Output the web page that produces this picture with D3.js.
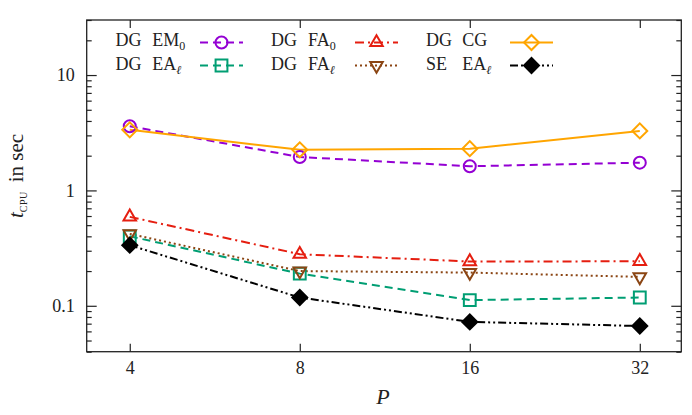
<!DOCTYPE html>
<html>
<head>
<meta charset="utf-8">
<script src="https://cdn.jsdelivr.net/npm/d3@7"></script>
<style>
  body { margin: 0; background: #fff; }
</style>
</head>
<body>
<svg id="chart" width="692" height="415"></svg>
<script>
// processes P
const P = [4, 8, 16, 32];

// CPU time in seconds
const dgEM0 = [3.6, 1.95, 1.62, 1.74];
const dgEAl = [0.40, 0.19, 0.112, 0.118];
const dgFA0 = [0.59, 0.28, 0.242, 0.243];
const dgFAl = [0.42, 0.20, 0.194, 0.178];
const dgCG  = [3.35, 2.25, 2.3, 3.28];
const seEAl = [0.335, 0.118, 0.0725, 0.0668];

const xTicks = [4, 8, 16, 32];
const yTicks = [0.1, 1, 10];
const yTickLabels = ["0.1", "1", "10"];

const series = [
    { first: "DG", second: "EM", sub: "0", values: dgEM0, color: "#9400d3", dash: "8,5", shape: "circle" },
    { first: "DG", second: "EA", sub: "ℓ", values: dgEAl, color: "#009e73", dash: "8,5", shape: "square" },
    { first: "DG", second: "FA", sub: "0", values: dgFA0, color: "#e51e10", dash: "9,4,2,4", shape: "triangle" },
    { first: "DG", second: "FA", sub: "ℓ", values: dgFAl, color: "#8b4513", dash: "2,3", shape: "triangleDown" },
    { first: "DG", second: "CG", sub: "", values: dgCG, color: "#ffa500", dash: null, shape: "diamond" },
    { first: "SE", second: "EA", sub: "ℓ", values: seEAl, color: "#000000", dash: "8,3,2,3,2,3", shape: "diamondFilled" }
];

const FONT = "'Liberation Serif', 'DejaVu Serif', serif";
const box = { left: 86.7, right: 681.3, top: 20, bottom: 351.7 };
const svg = d3.select("#chart").attr("font-family", FONT);

const x = d3.scaleLog().base(2).domain([3.356, 37.9]).range([box.left, box.right]);
const y = d3.scaleLog().domain([0.04, 30]).range([box.bottom, box.top]);

// minor log ticks
const yMinor = [];
[0.01, 0.1, 1, 10].forEach(dec => {
    for (let k = 2; k <= 9; k++) {
        const v = dec * k;
        if (v >= 0.04 && v <= 30) yMinor.push(v);
    }
});

const tickColor = "#222";

function styleAxis(g) {
    g.attr("font-family", FONT).attr("font-size", 18);
    g.select(".domain").remove();
    g.selectAll(".tick line").attr("stroke", tickColor).attr("stroke-width", 1.2);
    g.selectAll(".tick text").attr("fill", tickColor);
}

// left axis
svg.append("g")
    .attr("transform", `translate(${box.left},0)`)
    .call(d3.axisLeft(y).tickValues(yTicks).tickFormat((d, i) => yTickLabels[i]).tickSize(-10).tickPadding(12))
    .call(styleAxis);
svg.append("g")
    .attr("transform", `translate(${box.left},0)`)
    .call(d3.axisLeft(y).tickValues(yMinor).tickFormat("").tickSize(-5))
    .call(styleAxis);

// right axis (mirror)
svg.append("g")
    .attr("transform", `translate(${box.right},0)`)
    .call(d3.axisRight(y).tickValues(yTicks).tickFormat("").tickSize(-10))
    .call(styleAxis);
svg.append("g")
    .attr("transform", `translate(${box.right},0)`)
    .call(d3.axisRight(y).tickValues(yMinor).tickFormat("").tickSize(-5))
    .call(styleAxis);

// bottom axis
svg.append("g")
    .attr("transform", `translate(0,${box.bottom})`)
    .call(d3.axisBottom(x).tickValues(xTicks).tickFormat(d3.format("d")).tickSize(-8).tickPadding(10))
    .call(styleAxis);

// top axis (mirror)
svg.append("g")
    .attr("transform", `translate(0,${box.top})`)
    .call(d3.axisTop(x).tickValues(xTicks).tickFormat("").tickSize(-8))
    .call(styleAxis);

// frame
svg.append("rect")
    .attr("x", box.left).attr("y", box.top)
    .attr("width", box.right - box.left).attr("height", box.bottom - box.top)
    .attr("fill", "none").attr("stroke", tickColor).attr("stroke-width", 1.3);

// axis labels
svg.append("text")
    .attr("x", 383).attr("y", 404)
    .attr("text-anchor", "middle")
    .attr("fill", tickColor)
    .attr("font-size", 22).attr("font-style", "italic")
    .text("P");

const ylab = svg.append("text")
    .attr("transform", "translate(23,176) rotate(-90)")
    .attr("text-anchor", "middle")
    .attr("fill", tickColor)
    .attr("font-size", 21);
ylab.append("tspan").attr("font-style", "italic").text("t");
ylab.append("tspan").attr("dy", 4).attr("font-size", 10).attr("letter-spacing", 0.5).text("CPU");
ylab.append("tspan").attr("dy", -4).attr("dx", 9).text("in sec");

// markers
function markerPath(shape) {
    switch (shape) {
        case "circle": return d3.symbol(d3.symbolCircle, 113)();
        case "square": return d3.symbol(d3.symbolSquare, 140)();
        case "triangle":
        case "triangleDown": return d3.symbol(d3.symbolTriangle, 68)();
        default: return d3.symbol(d3.symbolSquare, 112)();
    }
}
function markerRotate(shape) {
    if (shape === "triangleDown") return 180;
    if (shape === "diamond" || shape === "diamondFilled") return 45;
    return 0;
}

function drawMarker(g, s, cx, cy) {
    g.append("path")
        .attr("d", markerPath(s.shape))
        .attr("transform", `translate(${cx},${cy}) rotate(${markerRotate(s.shape)})`)
        .attr("fill", s.shape === "diamondFilled" ? s.color : "none")
        .attr("stroke", s.color)
        .attr("stroke-width", 2);
}

const line = d3.line()
    .x((d, i) => x(P[i]))
    .y(d => y(d));

const plot = svg.append("g");
series.forEach(s => {
    plot.append("path")
        .datum(s.values)
        .attr("d", line)
        .attr("fill", "none")
        .attr("stroke", s.color)
        .attr("stroke-width", 2)
        .attr("stroke-dasharray", s.dash);
});
series.forEach(s => {
    s.values.forEach((v, i) => drawMarker(plot, s, x(P[i]), y(v)));
});

// legend: 3 columns x 2 rows
const legCols = [
    { text: 115.5, second: 152.3, x1: 200, x2: 243 },
    { text: 271, second: 308, x1: 355, x2: 398 },
    { text: 426, second: 462.3, x1: 510, x2: 553 }
];
const legRows = [{ base: 46, line: 42.5 }, { base: 69.5, line: 65.5 }];

const legend = svg.append("g").attr("fill", tickColor).attr("font-size", 18);
series.forEach((s, i) => {
    const c = legCols[Math.floor(i / 2)];
    const r = legRows[i % 2];
    legend.append("text").attr("x", c.text).attr("y", r.base).text(s.first);
    const t = legend.append("text").attr("x", c.second).attr("y", r.base);
    t.append("tspan").text(s.second);
    if (s.sub) {
        t.append("tspan").attr("dy", 4).attr("font-size", 12)
            .attr("font-style", s.sub === "ℓ" ? "italic" : "normal").text(s.sub);
    }
    legend.append("line")
        .attr("x1", c.x1).attr("x2", c.x2).attr("y1", r.line).attr("y2", r.line)
        .attr("stroke", s.color).attr("stroke-width", 2)
        .attr("stroke-dasharray", s.dash);
    drawMarker(legend, s, (c.x1 + c.x2) / 2, r.line);
});
</script>
</body>
</html>
